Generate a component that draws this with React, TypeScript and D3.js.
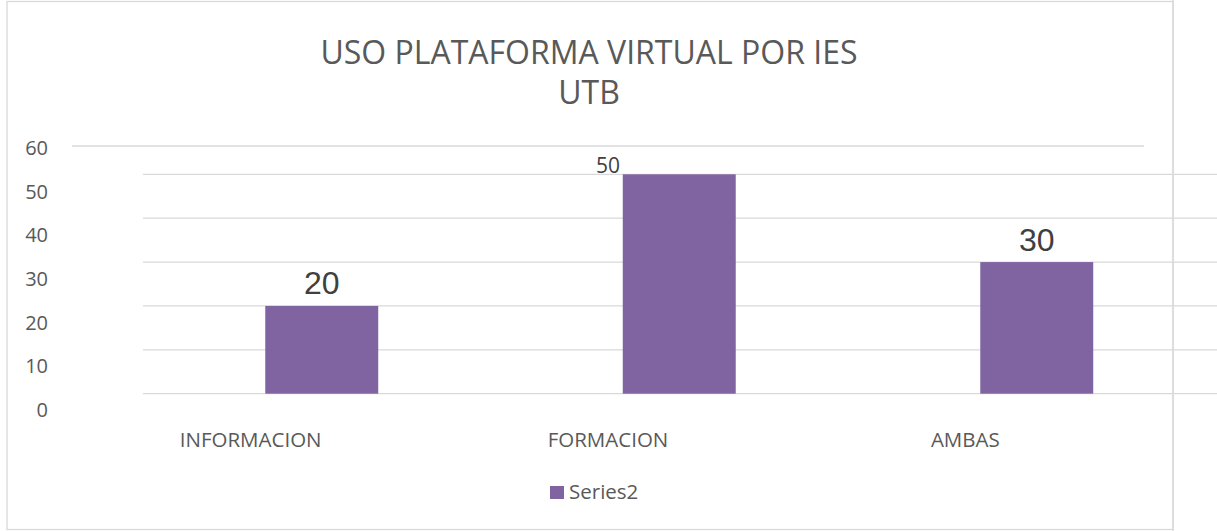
import React from "react";
import * as d3 from "d3";

const categories = ["INFORMACION", "FORMACION", "AMBAS"];
const values = [20, 50, 30];
const yTicks = [0, 10, 20, 30, 40, 50, 60];
const overlayTicks = [0, 10, 20, 30, 40, 50];
const seriesName = "Series2";
const titleLines = ["USO PLATAFORMA VIRTUAL POR IES", "UTB"];
// the middle bar's value label stays at the chart's original position
const originalLabelIdx = [1];

const W = 1217;
const H = 531;
const GRID = "#d9d9d9";
const TEXT = "#595959";
const BAR = "#8064a2";
const FONT = "'Open Sans', 'Noto Sans', sans-serif";

export default function App() {
  // original chart scales
  const x0 = d3.scaleBand<string>().domain(categories).range([72, 1144]);
  const y0 = d3.scaleLinear().domain([0, 60]).range([408, 146]);
  // shifted grid / bar layer
  const x1 = d3
    .scaleBand<string>()
    .domain(categories)
    .range([143, 1215.5])
    .paddingInner(0.684)
    .paddingOuter(0.342);
  const y1 = d3.scaleLinear().domain([0, 50]).range([393.7, 174.3]);

  return (
    <div style={{ position: "fixed", left: 0, top: 0 }}>
      <svg width={W} height={H} style={{ display: "block", background: "#fff" }}>
        {/* chart border */}
        <rect x={7} y={1.5} width={1166} height={528} fill="#fff" stroke={GRID} strokeWidth={1.3} />
        {/* title */}
        {titleLines.map((t, i) => (
          <text
            key={t}
            x={589}
            y={64 + i * 40}
            textAnchor="middle"
            fontFamily={FONT}
            fontSize={32}
            fill={TEXT}
          >
            {t}
          </text>
        ))}
        {/* top gridline of original chart */}
        <line x1={72} x2={1144} y1={y0(60)} y2={y0(60)} stroke={GRID} strokeWidth={1.3} />
        {/* y labels */}
        {yTicks.map((v) => (
          <text
            key={v}
            x={48}
            y={y0(v) + 2}
            dy="0.35em"
            textAnchor="end"
            fontFamily={FONT}
            fontSize={20}
            fill={TEXT}
          >
            {v}
          </text>
        ))}
        {/* x labels */}
        {categories.map((c) => (
          <text
            key={c}
            x={(x0(c) ?? 0) + x0.bandwidth() / 2}
            y={447}
            textAnchor="middle"
            fontFamily={FONT}
            fontSize={20.5}
            fill={TEXT}
          >
            {c}
          </text>
        ))}
        {/* overlay gridlines */}
        {overlayTicks.map((v) => (
          <line key={v} x1={143} x2={W} y1={y1(v)} y2={y1(v)} stroke={GRID} strokeWidth={1.3} />
        ))}
        <line x1={1173} x2={1173} y1={0} y2={H} stroke={GRID} strokeWidth={1.3} />
        {/* bars */}
        {categories.map((c, i) => (
          <rect
            key={c}
            x={x1(c)}
            y={y1(values[i])}
            width={x1.bandwidth()}
            height={y1(0) - y1(values[i])}
            fill={BAR}
          />
        ))}
        {/* value labels */}
        {categories.map((c, i) =>
          originalLabelIdx.includes(i) ? (
            <text
              key={c}
              x={(x0(c) ?? 0) + x0.bandwidth() / 2}
              y={y0(values[i]) - 17}
              textAnchor="middle"
              fontFamily={FONT}
              fontSize={21}
              fill="#404040"
            >
              {values[i]}
            </text>
          ) : (
            <text
              key={c}
              x={(x1(c) ?? 0) + x1.bandwidth() / 2}
              y={y1(values[i]) - 11.5}
              textAnchor="middle"
              fontFamily="'Liberation Sans', Arial, sans-serif"
              fontSize={32}
              fill="#404040"
            >
              {values[i]}
            </text>
          )
        )}
        {/* legend */}
        <rect x={550} y={486} width={14} height={13} fill={BAR} />
        <text x={569} y={499} fontFamily={FONT} fontSize={20.5} fill={TEXT}>
          {seriesName}
        </text>
      </svg>
    </div>
  );
}
